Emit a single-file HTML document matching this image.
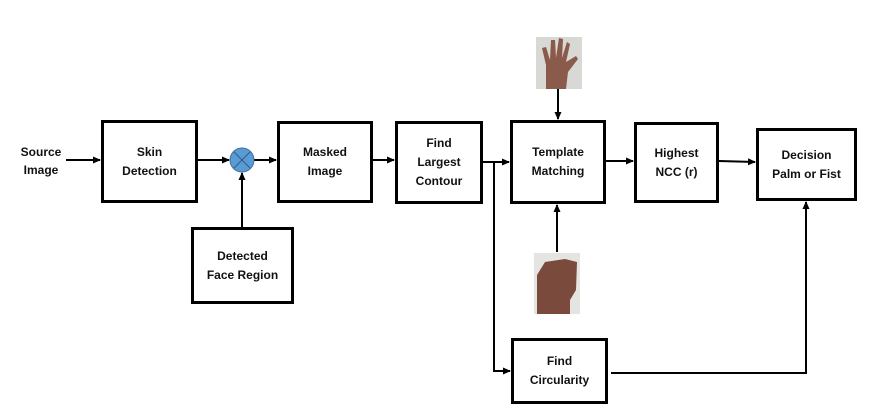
<!DOCTYPE html>
<html><head><style>
body{margin:0;width:874px;height:419px;background:#fff;position:relative;overflow:hidden;font-family:"Liberation Sans",sans-serif;}
.b{position:absolute;border:3px solid #000;box-sizing:border-box;display:flex;align-items:center;justify-content:center;text-align:center;font-weight:bold;font-size:12px;line-height:19px;color:#111;background:#fff;}
.t{position:absolute;font-weight:bold;font-size:12px;line-height:18px;text-align:center;color:#111;}
</style></head><body>
<svg width="874" height="419" style="position:absolute;left:0;top:0">
<defs><marker id="a" markerWidth="8" markerHeight="8" refX="7" refY="4" orient="auto" markerUnits="userSpaceOnUse"><path d="M0,0.5 L8,4 L0,7.5z" fill="#000"/></marker></defs>
<g stroke="#000" stroke-width="2" fill="none">
<line x1="66" y1="160" x2="100" y2="160" marker-end="url(#a)"/>
<line x1="198" y1="160" x2="229" y2="160" marker-end="url(#a)"/>
<line x1="254" y1="160" x2="276" y2="160" marker-end="url(#a)"/>
<line x1="242" y1="227" x2="242" y2="173" marker-end="url(#a)"/>
<line x1="373" y1="160" x2="394" y2="160" marker-end="url(#a)"/>
<line x1="483" y1="162" x2="509" y2="162" marker-end="url(#a)"/>
<polyline points="494,162 494,371 510,371" marker-end="url(#a)"/>
<line x1="606" y1="161" x2="633" y2="161" marker-end="url(#a)"/>
<line x1="719" y1="161" x2="755" y2="162" marker-end="url(#a)"/>
<line x1="558" y1="89" x2="558" y2="119" marker-end="url(#a)"/>
<line x1="557" y1="252" x2="557" y2="205" marker-end="url(#a)"/>
<polyline points="611,373 806,373 806,202" marker-end="url(#a)"/>
</g>
<circle cx="242" cy="160" r="12" fill="#5b9bd5" stroke="#41719c" stroke-width="1"/>
<line x1="234" y1="152" x2="250" y2="168" stroke="#2e5a86" stroke-width="1"/>
<line x1="250" y1="152" x2="234" y2="168" stroke="#2e5a86" stroke-width="1"/>
<rect x="536" y="37" width="46" height="52" fill="#d8d8d4"/>
<path d="M546,89 L546,65 L542,48 L546,47 L550,60 L551,40 L555,40 L556,58 L559,38 L563,39 L562,58 L567,42 L570,44 L566,62 L576,56 L578,59 L568,72 L566,89z" fill="#8a5a4a"/>
<rect x="534" y="253" width="46" height="61" fill="#e4e4e0"/>
<path d="M537,314 L537,275 L545,262 L565,259 L577,262 L576,290 L570,300 L570,314z" fill="#7a4a3c"/>
</svg>
<div class="t" style="left:10px;top:143px;width:62px">Source<br>Image</div>
<div class="b" style="left:101px;top:120px;width:97px;height:83px">Skin<br>Detection</div>
<div class="b" style="left:277px;top:121px;width:96px;height:82px">Masked<br>Image</div>
<div class="b" style="left:395px;top:121px;width:88px;height:83px">Find<br>Largest<br>Contour</div>
<div class="b" style="left:510px;top:120px;width:96px;height:84px">Template<br>Matching</div>
<div class="b" style="left:634px;top:122px;width:85px;height:81px">Highest<br>NCC (r)</div>
<div class="b" style="left:756px;top:128px;width:101px;height:73px">Decision<br>Palm or Fist</div>
<div class="b" style="left:191px;top:227px;width:103px;height:77px">Detected<br>Face Region</div>
<div class="b" style="left:511px;top:338px;width:97px;height:66px">Find<br>Circularity</div>
</body></html>
